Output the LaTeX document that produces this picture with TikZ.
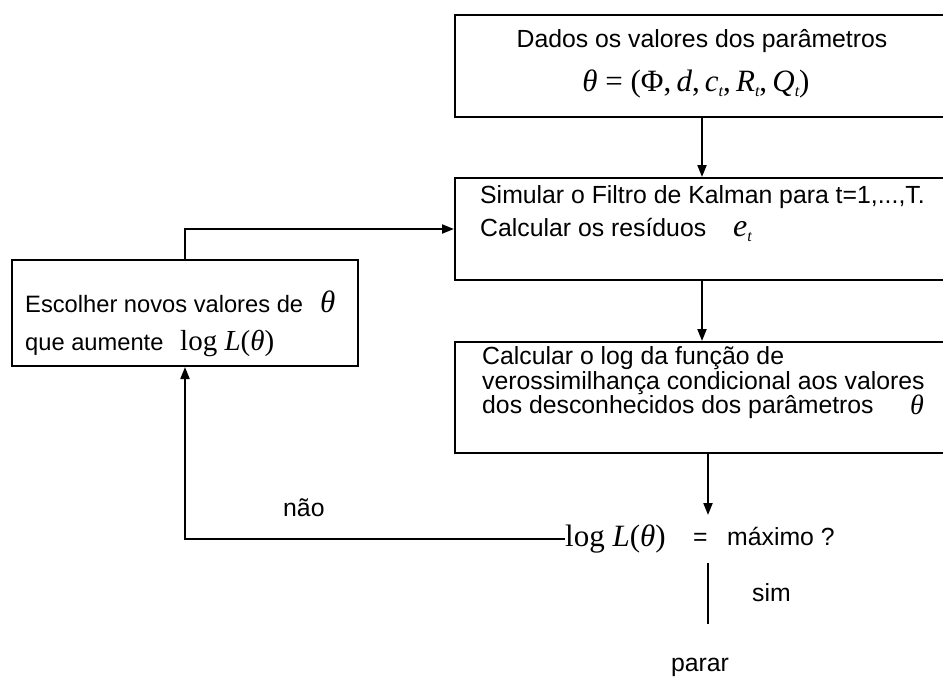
\documentclass[tikz,border=0pt]{standalone}
\usepackage{fontspec}
\setmainfont{Liberation Sans}
\newfontfamily\tms{Liberation Serif}
\usetikzlibrary{arrows.meta}
\newcommand{\sit}[1]{{\tms\itshape #1}}
\newcommand{\srm}[1]{{\tms #1}}
\newcommand{\subt}[1]{\raisebox{-0.35ex}{\fontsize{16}{16}\selectfont\tms\itshape #1}}

\begin{document}
\begin{tikzpicture}[x=1pt,y=-1pt,
    box/.style={draw,line width=2pt,inner sep=0pt,minimum width=494pt},
    txt/.style={anchor=base west,inner sep=0pt,font=\fontsize{24.8}{24.8}\selectfont},
    lin/.style={line width=2pt},
    arr/.style={line width=2pt,-{Triangle[length=12pt,width=9pt]}}]
  \useasboundingbox (0,0) rectangle (943,678);

  %%%%% caixas %%%%%
  \node[box,minimum height=102pt] (dados) at (702,66) {};
  \node[box,minimum height=102pt] (kalman) at (702,229) {};
  \node[box,minimum height=111pt] (verossim) at (702,397.5) {};
  \node[box,minimum width=346pt,minimum height=106pt] (escolher) at (185,313) {};

  %%%%% textos %%%%%
  \node[txt,anchor=base] (dados1) at (702,47) {Dados os valores dos parâmetros};
  \node[txt,anchor=base,font=\fontsize{31}{31}\selectfont] (dados2) at (696,91)
    {\sit{θ}\srm{ = (Φ,\,}\sit{d}\srm{,\,}\sit{c}\subt{t}\srm{,\,}\sit{R}\subt{t}\srm{,\,}\sit{Q}\subt{t}\srm{)}};

  \node[txt] (kalman1) at (480,203) {Simular o Filtro de Kalman para t=1,...,T.};
  \node[txt] (kalman2) at (480,236) {Calcular os resíduos};
  \node[txt,font=\fontsize{32}{32}\selectfont] (resid) at (733,236) {\sit{e}\subt{t}};

  \node[txt] (cond1) at (482,364) {Calcular o log da função de};
  \node[txt] (cond2) at (482,389) {verossimilhança condicional aos valores};
  \node[txt] (cond3) at (482,413) {dos desconhecidos dos parâmetros};
  \node[txt,font=\fontsize{28}{28}\selectfont] (theta3) at (910,414) {\sit{θ}};

  \node[txt,font=\fontsize{23.7}{23.7}\selectfont] (esc1) at (25,312) {Escolher novos valores de};
  \node[txt,font=\fontsize{31}{31}\selectfont] (esc1t) at (320,312) {\sit{θ}};
  \node[txt,font=\fontsize{23.7}{23.7}\selectfont] (esc2) at (25,350) {que aumente};
  \node[txt,font=\fontsize{29}{29}\selectfont] (esc2l) at (180,350)
    {\srm{log }\sit{L}\srm{(}\sit{θ}\srm{)}};

  \node[txt,font=\fontsize{31}{31}\selectfont] (maxlog) at (565,546)
    {\srm{log }\sit{L}\srm{(}\sit{θ}\srm{)}};
  \node[txt] (igual) at (693,545) {=};
  \node[txt] (maximo) at (727,545) {máximo ?};
  \node[txt] (nao) at (283,516) {não};
  \node[txt] (sim) at (752,601) {sim};
  \node[txt,anchor=base] (parar) at (700,671) {parar};

  \coordinate (topo) at (708,515);
  \coordinate (simA) at (708,563);
  \coordinate (simB) at (708,624);

  %%%%% ligações %%%%%
  \draw[arr] (dados.south) -- (kalman.north);
  \draw[arr] (kalman.south) -- (verossim.north);
  \draw[arr] (verossim.south -| topo) -- (topo);
  \draw[arr] (maxlog.west) -| (escolher.south);
  \draw[arr] (escolher.north) |- (kalman.west);
  \draw[lin] (simA) -- (simB);
\end{tikzpicture}
\end{document}
